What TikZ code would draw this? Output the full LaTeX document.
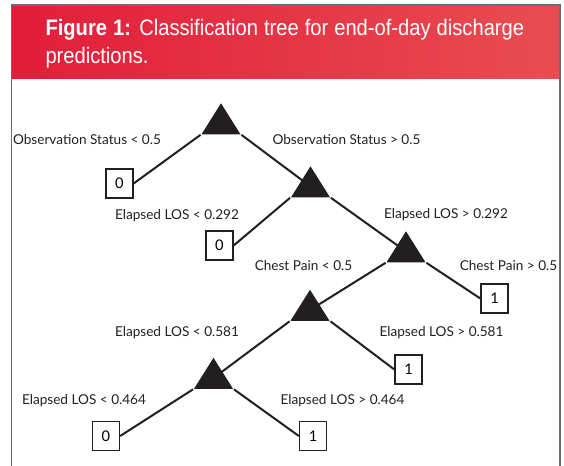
\documentclass[tikz,border=0pt]{standalone}
\usepackage{fontspec}
\setmainfont{Lato}
\newfontfamily\headfont[FakeStretch=0.9]{Liberation Sans}
\usetikzlibrary{shapes.geometric}

\definecolor{headleft}{RGB}{226,29,58}
\definecolor{headright}{RGB}{233,77,80}
\definecolor{treeblack}{RGB}{35,31,32}
\definecolor{framegray}{RGB}{110,110,110}

\tikzset{every picture/.style={line width=0.75pt}}
\tikzset{
  splitnode/.style={isosceles triangle, isosceles triangle stretches, shape border rotate=90,
    minimum width=29.25pt, minimum height=23.25pt, inner sep=0pt, fill=treeblack, anchor=apex},
  leafbox/.style={draw=treeblack, line width=1pt, minimum width=20.25pt, minimum height=21.75pt,
    inner sep=0pt, font=\fontsize{11}{13}\selectfont},
  rulelabel/.style={inner sep=0.75pt, text=treeblack, font=\fontsize{10.2}{12}\selectfont},
  branchline/.style={draw=treeblack, line width=1.5pt},
}

\begin{document}
\begin{tikzpicture}[x=0.75pt,y=0.75pt,yscale=-1,xscale=1]
\useasboundingbox (0,0) rectangle (564,466);

%Shape: Header band
\shade[left color=headleft, right color=headright] (12,5) rectangle (560,79);
%Shape: Frame
\draw[framegray, line width=1pt] (11.5,466) -- (11.5,5) -- (560,5) -- (560,466);

% Text Node
\node[anchor=north west, inner sep=0pt, text width=359pt, align=justify, text=white,
  font=\headfont\fontsize{16.8}{20.8}\selectfont] (title) at (45,19)
  {\hyphenpenalty=10000 \textbf{Figure 1:} Classification tree for end-of-day discharge\linebreak predictions.};

%Shape: Splits
\node[splitnode] (t1) at (221,102) {};
\node[splitnode] (t2) at (310.5,165) {};
\node[splitnode] (t3) at (406,230) {};
\node[splitnode] (t4) at (310,288.5) {};
\node[splitnode] (t5) at (213.5,356.5) {};

%Shape: Leaves
\node[leafbox] (l1) at (119.5,183.5) {0};
\node[leafbox] (l2) at (219.5,245.5) {0};
\node[leafbox] (l3) at (494.5,298.5) {1};
\node[leafbox] (l4) at (408.5,369.5) {1};
\node[leafbox] (l5) at (106,436) {0};
\node[leafbox] (l6) at (313,436) {1};

%Straight Lines
\draw[branchline] (t1.left corner) -- (l1.east);
\draw[branchline] (t1.right corner) -- (t2.center);
\draw[branchline] (t2.left corner) -- (l2.east);
\draw[branchline] (t2.right corner) -- (t3.center);
\draw[branchline] (t3.left corner) -- (t4.center);
\draw[branchline] (t3.right corner) -- (l3.west);
\draw[branchline] (t4.left corner) -- (t5.center);
\draw[branchline] (t4.right corner) -- (l4.west);
\draw[branchline] (t5.left corner) -- (l5.east);
\draw[branchline] (t5.right corner) -- (l6.west);

% Text Node
\node[rulelabel] (obsl) at (87,140) {Observation Status < 0.5};
% Text Node
\node[rulelabel] (obsr) at (346.5,140) {Observation Status > 0.5};
% Text Node
\node[rulelabel] (losla) at (177,216) {Elapsed LOS < 0.292};
% Text Node
\node[rulelabel] (losra) at (446,215) {Elapsed LOS > 0.292};
% Text Node
\node[rulelabel] (painl) at (303.5,266) {Chest Pain < 0.5};
% Text Node
\node[rulelabel] (painr) at (508.5,266) {Chest Pain > 0.5};
% Text Node
\node[rulelabel] (loslb) at (177,333) {Elapsed LOS < 0.581};
% Text Node
\node[rulelabel] (losrb) at (441.5,333) {Elapsed LOS > 0.581};
% Text Node
\node[rulelabel] (loslc) at (84,401) {Elapsed LOS < 0.464};
% Text Node
\node[rulelabel] (losrc) at (342.5,401) {Elapsed LOS > 0.464};

\end{tikzpicture}
\end{document}
